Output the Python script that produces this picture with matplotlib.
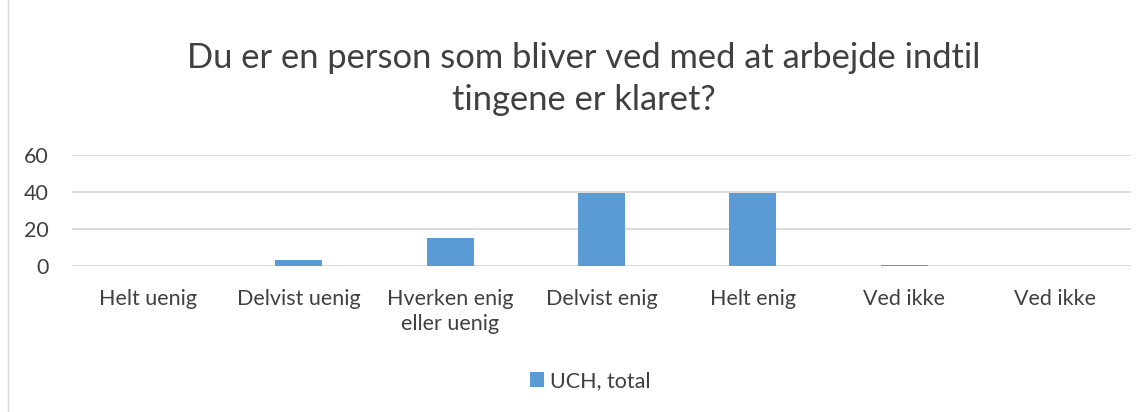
import matplotlib.pyplot as plt
from matplotlib.patches import Rectangle

categories = ['Helt uenig', 'Delvist uenig', 'Hverken enig\neller uenig',
              'Delvist enig', 'Helt enig', 'Ved ikke', 'Ved ikke']
values = [0, 3.5, 15.2, 39.3, 39.3, 0.4, 0]
series_name = 'UCH, total'
yticks = [0, 20, 40, 60]

W, H = 1147, 412
fig = plt.figure(figsize=(W / 100, H / 100), dpi=100)
plt.rcParams['font.family'] = ['Lato', 'DejaVu Sans']

# light chart frame
fig.patches.append(Rectangle((8 / W, -0.01), 1.2, 1.02, transform=fig.transFigure,
                             fill=False, edgecolor='#D9D9D9', linewidth=1))

ax = fig.add_axes([72 / W, (H - 266) / H, (1131 - 72) / W, (266 - 155) / H])
x = list(range(len(categories)))
ax.bar(x, values, width=0.31, color='#5B9BD5', label=series_name, zorder=3)
ax.set_xlim(-0.5, len(categories) - 0.5)
ax.set_ylim(0, 60)
ax.set_yticks(yticks)
ax.set_xticks(x)
ax.set_xticklabels(categories, fontsize=15.5, color='#404040', linespacing=1.32)
ax.tick_params(axis='y', labelsize=15.5, labelcolor='#404040', length=0, pad=17)
ax.tick_params(axis='x', length=0, pad=16.5)
ax.grid(axis='y', color='#D9D9D9', linewidth=1.3, zorder=0)
for s in ax.spines.values():
    s.set_visible(False)

fig.text(584 / W, 1 - 79 / H, 'Du er en person som bliver ved med at arbejde indtil\ntingene er klaret?',
         ha='center', va='center', fontsize=24.8, color='#404040', linespacing=1.4)

fig.legend(loc='center', bbox_to_anchor=(590 / W, 1 - 381 / H), frameon=False,
           fontsize=15.5, labelcolor='#404040', handlelength=0.65, handleheight=0.65,
           handletextpad=0.3)

fig.savefig('out.png', dpi=100)
